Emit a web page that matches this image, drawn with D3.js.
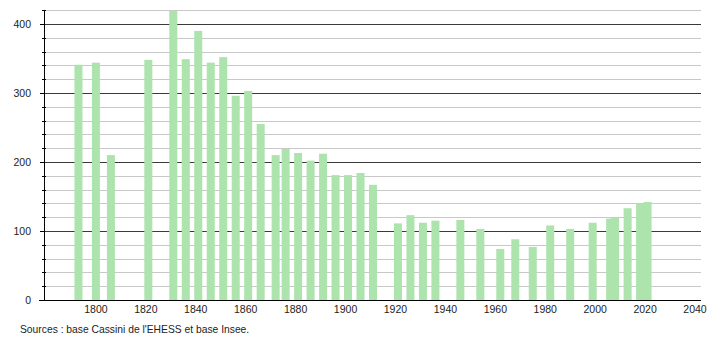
<!DOCTYPE html>
<html>
<head>
<meta charset="utf-8">
<script src="https://cdn.jsdelivr.net/npm/d3@7"></script>
<style>
  body { margin: 0; background: #fff; }
  text { font-family: "Liberation Sans", Arial, sans-serif; fill: #222; }
</style>
</head>
<body>
<div id="chart"></div>
<script>
// census years and population
const years = [1793, 1800, 1806, 1821, 1831, 1836, 1841, 1846, 1851, 1856, 1861, 1866,
    1872, 1876, 1881, 1886, 1891, 1896, 1901, 1906, 1911, 1921, 1926, 1931, 1936,
    1946, 1954, 1962, 1968, 1975, 1982, 1990, 1999, 2006, 2008, 2013, 2018, 2021];
const population = [341, 344, 210, 348, 419, 349, 390, 344, 352, 296, 303, 255,
    210, 219, 213, 202, 212, 181, 181, 184, 167, 111, 123, 112, 115,
    116, 103, 74, 88, 77, 108, 103, 112, 118, 120, 133, 140, 142];
const xTicks = [1800, 1820, 1840, 1860, 1880, 1900, 1920, 1940, 1960, 1980, 2000, 2020, 2040];
const yMajor = [0, 100, 200, 300, 400];
const yMinor = d3.range(20, 440, 20).filter(v => v % 100 !== 0);
const source = "Sources : base Cassini de l'EHESS et base Insee.";

const width = 710;
const height = 340;

const svg = d3.select("#chart")
    .append("svg")
    .attr("width", width)
    .attr("height", height);

// scales
const x = d3.scaleLinear()
    .domain([1779.2, 2042.4])
    .range([44, 701]);
const y = d3.scaleLinear()
    .domain([0, 420])
    .range([300, 10.2]);

const barW = 8;

// light gridlines every 20
svg.append("g")
    .selectAll("line")
    .data(yMinor)
    .enter()
    .append("line")
    .attr("x1", 44)
    .attr("x2", 701)
    .attr("y1", d => Math.round(y(d)) + 0.5)
    .attr("y2", d => Math.round(y(d)) + 0.5)
    .attr("stroke", "#c8c8c8")
    .attr("stroke-width", 1.2);

// dark gridlines every 100
svg.append("g")
    .selectAll("line")
    .data(yMajor.slice(1))
    .enter()
    .append("line")
    .attr("x1", 44)
    .attr("x2", 701)
    .attr("y1", d => Math.round(y(d)) + 0.5)
    .attr("y2", d => Math.round(y(d)) + 0.5)
    .attr("stroke", "#3a3a3a")
    .attr("stroke-width", 1);

// bars
svg.append("g")
    .selectAll("rect")
    .data(years)
    .enter()
    .append("rect")
    .attr("x", (d, i) => x(d) - barW / 2)
    .attr("y", (d, i) => y(population[i]))
    .attr("width", barW)
    .attr("height", (d, i) => y(0) - y(population[i]))
    .attr("fill", "#ade3ad");

// y axis line and ticks
svg.append("line")
    .attr("x1", 44.5).attr("x2", 44.5)
    .attr("y1", 10).attr("y2", 300)
    .attr("stroke", "#000");

svg.append("g")
    .selectAll("line")
    .data(yMinor)
    .enter()
    .append("line")
    .attr("x1", 42)
    .attr("x2", 46)
    .attr("y1", d => Math.round(y(d)) + 0.5)
    .attr("y2", d => Math.round(y(d)) + 0.5)
    .attr("stroke", "#000");

svg.append("g")
    .selectAll("line")
    .data(yMajor)
    .enter()
    .append("line")
    .attr("x1", 40)
    .attr("x2", 44)
    .attr("y1", d => Math.round(y(d)) + 0.5)
    .attr("y2", d => Math.round(y(d)) + 0.5)
    .attr("stroke", "#000");

// x axis line
svg.append("line")
    .attr("x1", 39).attr("x2", 701)
    .attr("y1", 300.5).attr("y2", 300.5)
    .attr("stroke", "#000");

// y labels
svg.append("g")
    .selectAll("text")
    .data(yMajor)
    .enter()
    .append("text")
    .attr("x", 31)
    .attr("y", d => y(d) + 4)
    .attr("text-anchor", "end")
    .style("font-size", "10.5px")
    .text(d => d);

// x labels
svg.append("g")
    .selectAll("text")
    .data(xTicks)
    .enter()
    .append("text")
    .attr("x", d => x(d))
    .attr("y", 312.5)
    .attr("text-anchor", "middle")
    .style("font-size", "10.5px")
    .text(d => d);

// source note
svg.append("text")
    .attr("x", 20)
    .attr("y", 333)
    .style("font-size", "10.3px")
    .text(source);
</script>
</body>
</html>
